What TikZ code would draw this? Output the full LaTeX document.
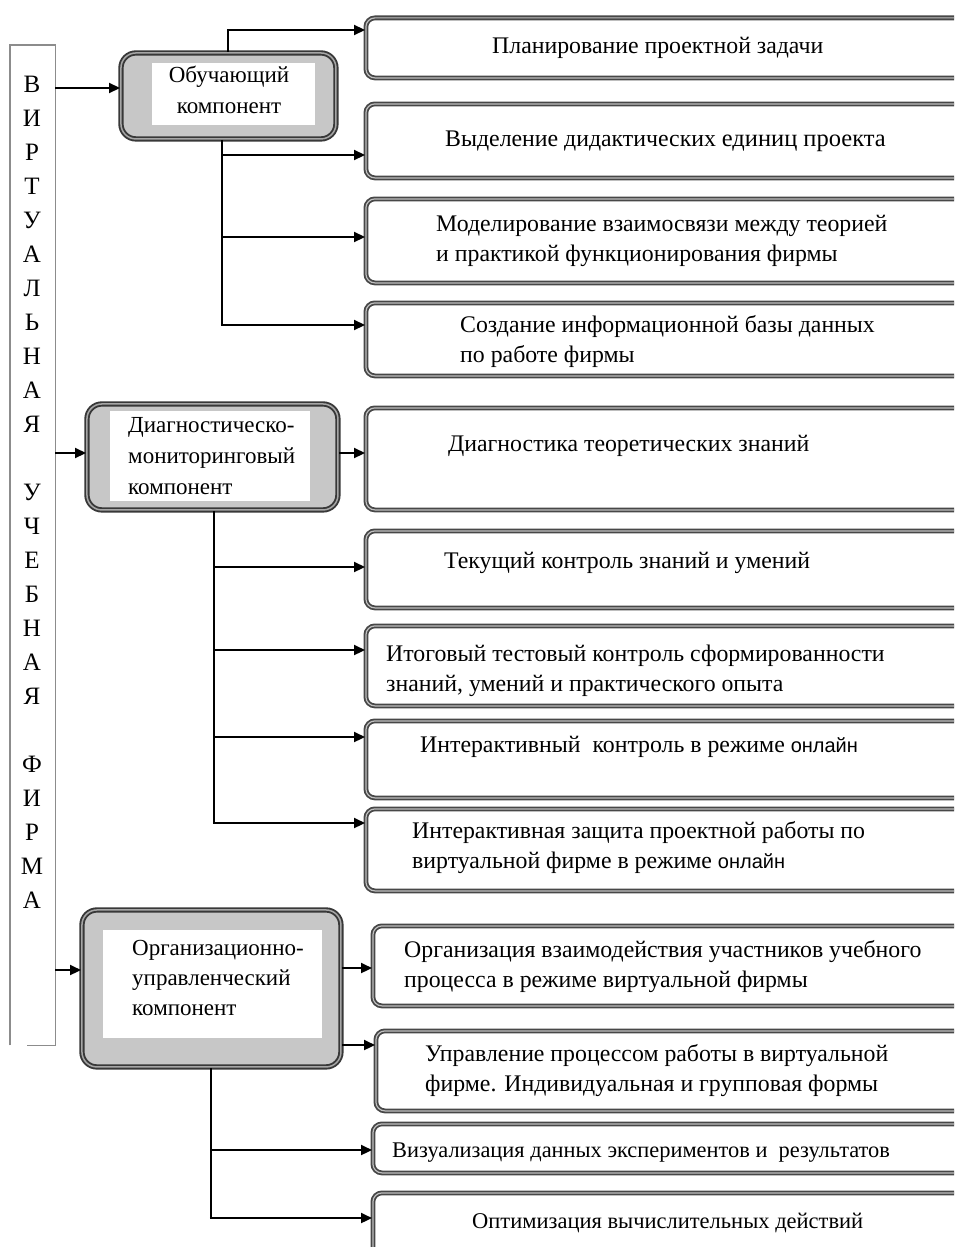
\documentclass[tikz,border=0pt]{standalone}
\usepackage{fontspec}
\setmainfont{Liberation Serif}
\newfontfamily\arialf{Liberation Sans}
\usetikzlibrary{arrows.meta,calc}
\begin{document}
\begin{tikzpicture}[x=1pt,y=-1pt,
 rbox/.style={draw=black!72, double=black!25, double distance=1.2pt, line width=1.8pt, rounded corners=9pt, fill=white, minimum width=600pt, anchor=north west, inner sep=0pt},
 comp/.style={draw=black!78, double=black!35, double distance=1.5pt, line width=1.9pt, rounded corners=15pt, fill=black!22, anchor=north west, inner sep=0pt},
 win/.style={fill=white, anchor=north west, inner sep=0pt},
 txt/.style={font=\fontsize{23.8}{30}\selectfont, anchor=base west, inner sep=0pt, align=left},
 ctxt/.style={font=\fontsize{23}{30}\selectfont, anchor=base west, inner sep=0pt, align=left},
 arr/.style={line width=2.2pt, -{Triangle[length=11pt,width=10pt]}},
 ln/.style={line width=2.2pt},
 frame/.style={draw=black!45, line width=1.3pt}
]
\useasboundingbox (0,0) rectangle (954,1247);
\clip (0,0) rectangle (954,1247);
\fill[white] (0,0) rectangle (954,1247);

% left vertical frame
\node[anchor=north west, minimum width=45pt, minimum height=1000pt, inner sep=0pt] (vf) at (10,45) {};
\draw[frame] (vf.south west) -- (vf.north west) -- (vf.north east) -- (vf.south east) -- ([xshift=-28pt]vf.south east);
\node[font=\fontsize{25}{34}\selectfont, anchor=base, align=center, inner sep=0pt] (vt) at (32,908)
 {В\\И\\Р\\Т\\У\\А\\Л\\Ь\\Н\\А\\Я\\\mbox{}\\У\\Ч\\Е\\Б\\Н\\А\\Я\\\mbox{}\\Ф\\И\\Р\\М\\А};

% component boxes
\node[comp, minimum width=215pt, minimum height=86pt] (ob) at (120,52) {};
\node[win, minimum width=163pt, minimum height=62pt] (obw) at (152,63) {};
\node[ctxt, font=\fontsize{23}{31}\selectfont, anchor=base, align=center] (obt) at (229,113) {Обучающий\\компонент};

\node[comp, minimum width=251pt, minimum height=106pt] (dg) at (86,403) {};
\node[win, minimum width=200pt, minimum height=90pt] (dgw) at (110,411) {};
\node[ctxt, font=\fontsize{23}{31}\selectfont] (dgt) at (128,494) {Диагностическо-\\мониторинговый\\компонент};

\node[comp, minimum width=259pt, minimum height=157pt] (og) at (81,909) {};
\node[win, minimum width=219pt, minimum height=108pt] (ogw) at (103,930) {};
\node[ctxt] (ogt) at (132,1015) {Организационно-\\управленческий\\компонент};

% right boxes
\node[rbox, minimum height=60pt] (r1) at (365,17) {};
\node[rbox, minimum height=74pt] (r2) at (365,103) {};
\node[rbox, minimum height=84pt] (r3) at (365,198) {};
\node[rbox, minimum height=73pt] (r4) at (365,302) {};
\node[rbox, minimum height=102pt] (r5) at (365,407) {};
\node[rbox, minimum height=77pt] (r6) at (365,530) {};
\node[rbox, minimum height=80pt] (r7) at (365,625) {};
\node[rbox, minimum height=77pt] (r8) at (365,720) {};
\node[rbox, minimum height=82pt] (r9) at (365,808) {};
\node[rbox, minimum height=80pt] (r10) at (372,925) {};
\node[rbox, minimum height=80pt] (r11) at (375,1030) {};
\node[rbox, minimum height=49pt] (r12) at (372,1123) {};
\node[rbox, minimum height=70pt] (r13) at (372,1192) {};

% texts
\node[txt] (t1) at (492,54) {Планирование проектной задачи};
\node[txt] (t2) at (445,146) {Выделение дидактических {\fontsize{24.5}{30}\selectfont единиц проекта}};
\node[txt] (t3) at (436,261) {Моделирование взаимосвязи между теорией\\и практикой функционирования фирмы};
\node[txt] (t4) at (460,362) {Создание информационной базы данных\\по работе фирмы};
\node[txt] (t5) at (448,451) {Диагностика теоретических знаний};
\node[txt] (t6) at (444,568) {Текущий контроль знаний и умений};
\node[txt] (t7) at (386,691) {Итоговый тестовый контроль сформированности\\знаний, умений и практического опыта};
\node[txt] (t8) at (420,752) {Интерактивный\ \ контроль в режиме {\arialf\fontsize{20}{30}\selectfont онлайн}};
\node[txt] (t9) at (412,868) {Интерактивная защита проектной работы по\\виртуальной фирме в режиме {\arialf\fontsize{20}{30}\selectfont онлайн}};
\node[txt] (t10) at (404,987) {Организация взаимодействия участников учебного\\процесса в режиме виртуальной фирмы};
\node[txt] (t11) at (425,1091) {Управление процессом работы в виртуальной\\фирме. Индивидуальная и групповая формы};
\node[txt, font=\fontsize{22.4}{30}\selectfont] (t12) at (392,1157) {Визуализация данных экспериментов и\ \ результатов};
\node[txt, font=\fontsize{22.5}{30}\selectfont] (t13) at (472,1228) {Оптимизация вычислительных действий};

% connectors from the frame
\draw[arr] (vf.east |- 0,88) -- (ob.west |- 0,88);
\draw[arr] (vf.east |- 0,453) -- (dg.west |- 0,453);
\draw[arr] (vf.east |- 0,970) -- (og.west |- 0,970);

% Obuchayushchiy
\draw[arr] (ob.north -| 228,0) |- (r1.west |- 0,30);
\coordinate (ob1) at (222,155);
\coordinate (ob2) at (222,237);
\coordinate (ob3) at (222,325);
\draw[ln] (ob.south -| ob3) -- (ob3);
\draw[arr] (ob1) -- (ob1 -| r2.west);
\draw[arr] (ob2) -- (ob2 -| r3.west);
\draw[arr] ([xshift=-1.1pt]ob3) -- (ob3 -| r4.west);

% Diagnostic
\draw[arr] (dg.east |- 0,453) -- (r5.west |- 0,453);
\coordinate (dg1) at (214,567);
\coordinate (dg2) at (214,650);
\coordinate (dg3) at (214,737);
\coordinate (dg4) at (214,823);
\draw[ln] (dg.south -| dg4) -- (dg4);
\draw[arr] (dg1) -- (dg1 -| r6.west);
\draw[arr] (dg2) -- (dg2 -| r7.west);
\draw[arr] (dg3) -- (dg3 -| r8.west);
\draw[arr] ([xshift=-1.1pt]dg4) -- (dg4 -| r9.west);

% Organizational
\draw[arr] (og.east |- 0,968) -- (r10.west |- 0,968);
\draw[arr] (og.east |- 0,1045) -- (r11.west |- 0,1045);
\coordinate (og1) at (211,1150);
\coordinate (og2) at (211,1218);
\draw[ln] (og.south -| og2) -- (og2);
\draw[arr] (og1) -- (og1 -| r12.west);
\draw[arr] ([xshift=-1.1pt]og2) -- (og2 -| r13.west);
\end{tikzpicture}
\end{document}
